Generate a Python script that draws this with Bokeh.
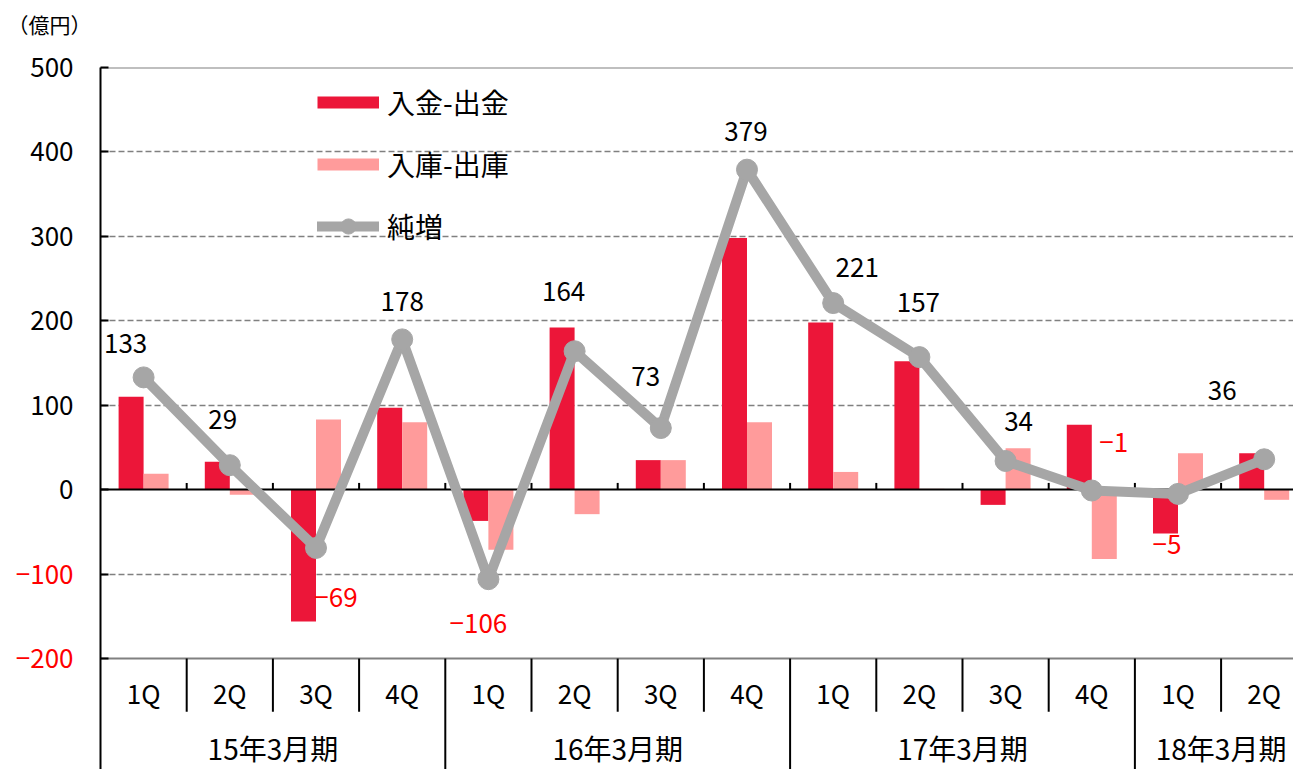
import math
from bokeh.plotting import figure
from bokeh.layouts import row
from bokeh.models import Range1d, FixedTicker, ColumnDataSource
from bokeh.core.properties import value
from bokeh.embed import file_html
from bokeh.resources import INLINE

# ---- data ----
quarters = ["1Q", "2Q", "3Q", "4Q", "1Q", "2Q", "3Q", "4Q", "1Q", "2Q", "3Q", "4Q", "1Q", "2Q"]
periods = ["15年3月期", "16年3月期", "17年3月期", "18年3月期"]
period_sizes = [4, 4, 4, 2]
deposit_net = [110, 33, -156, 97, -37, 192, 35, 298, 198, 152, -18, 77, -52, 43]   # 入金-出金
stock_net = [19, -6, 83, 80, -71, -29, 35, 80, 21, 1, 49, -82, 43, -12]         # 入庫-出庫
total_net = [133, 29, -69, 178, -106, 164, 73, 379, 221, 157, 34, -1, -5, 36]   # 純増
y_ticks = [-200, -100, 0, 100, 200, 300, 400, 500]
grid_ticks = [-100, 100, 200, 300, 400]
unit_label = "（億円）"

# label placement (screen px offsets from each point)
label_dx = [-18, -7, 20, 0, -10, -11, -15, -1, 24, -1, 13, 22, -11, -42]
label_dy = [-34, -46, 50, -38, 44, -60, -52, -38, -36, -55, -39, -48, 51, -69]

RED = "#EC1639"
PINK = "#FF9B9B"
GRAY = "#A6A6A6"
NEG = "#FF0000"
FONT = "Noto Sans CJK JP"
FS = "26px"

W, H = 1293, 769
LEFT, TOP = 100, 67
GAP = 4
Y0, Y1 = -331.4, 500
X1 = 13.84
PXU = (H - TOP) / (Y1 - Y0)  # pixels per y unit

n = len(quarters)
xc = [i + 0.5 for i in range(n)]


def fmt(v):
    return str(v).replace("-", "−")


# ---------- left strip: unit and y tick labels ----------
lp = figure(width=LEFT - GAP, height=H, x_range=Range1d(0, LEFT - GAP),
            y_range=Range1d(Y0, Y1 + TOP / PXU),
            output_backend="svg", toolbar_location=None,
            x_axis_location=None, y_axis_location=None, min_border=0)
lp.outline_line_color = None
lp.grid.visible = False
lp.text(x=[LEFT - 27] * len(y_ticks), y=y_ticks, text=[fmt(t) for t in y_ticks],
        text_color=[NEG if t < 0 else "black" for t in y_ticks],
        text_align="right", text_baseline="middle",
        text_font=value(FONT), text_font_size=value(FS))
lp.text(x=[7], y=[Y1 + (TOP - 23) / PXU], text=[unit_label], text_color="black",
        text_align="left", text_baseline="middle",
        text_font=value(FONT), text_font_size=value("21px"))

# ---------- main chart ----------
p = figure(width=W - LEFT + GAP, height=H, x_range=Range1d(0, X1), y_range=Range1d(Y0, Y1),
           output_backend="svg", toolbar_location=None, x_axis_location=None,
           min_border_left=GAP, min_border_right=0, min_border_top=TOP, min_border_bottom=0)
p.outline_line_color = None

# the two frames have different heights on purpose
for f in (lp, p):
    if "frame_align" in f.properties():
        f.frame_align = False

for g in p.xgrid:
    g.visible = False
p.ygrid.ticker = FixedTicker(ticks=grid_ticks)
p.ygrid.grid_line_color = "#808080"
p.ygrid.grid_line_dash = "6 3"
p.ygrid.grid_line_width = 1.5

ax = p.yaxis[0]
ax.ticker = FixedTicker(ticks=y_ticks)
ax.major_label_overrides = {t: "" for t in y_ticks}
ax.axis_line_color = "black"
ax.axis_line_width = 2
ax.major_tick_in = 8
ax.major_tick_out = 0
ax.major_tick_line_width = 2
ax.major_tick_line_color = "black"
ax.minor_tick_line_color = None
ax.major_label_standoff = 0
ax.major_label_text_font_size = "1px"

# top / bottom solid lines
p.hspan(y=[y_ticks[0], y_ticks[-1]], line_color="#808080", line_width=2)

# bars
p.vbar(x=[x - 0.145 for x in xc], width=0.29, top=deposit_net, bottom=0,
       fill_color=RED, line_color=None)
p.vbar(x=[x + 0.145 for x in xc], width=0.29, top=stock_net, bottom=0,
       fill_color=PINK, line_color=None)

# zero line and category ticks on it
p.hspan(y=[0], line_color="black", line_width=2)
bounds = list(range(1, n + 1))
p.segment(x0=bounds, y0=[0] * len(bounds), x1=bounds, y1=[8] * len(bounds),
          line_color="black", line_width=2)

# net line
p.line(xc, total_net, line_color=GRAY, line_width=10, line_join="round")
p.scatter(xc, total_net, size=21, marker="circle", fill_color=GRAY, line_color=GRAY)

# data labels
lab_src = ColumnDataSource(dict(
    x=xc, y=total_net,
    text=[fmt(v) for v in total_net],
    color=[NEG if v < 0 else "black" for v in total_net],
    dx=label_dx, dy=label_dy))
p.text(x="x", y="y", text="text", source=lab_src, x_offset="dx", y_offset="dy",
       text_color="color", text_align="center", text_baseline="middle",
       text_font=value(FONT), text_font_size=value(FS))

# category table below the chart
qy = -240.5
py = -305.5
p.text(x=xc, y=[qy] * n, text=quarters, text_align="center", text_baseline="middle",
       text_color="black", text_font=value(FONT), text_font_size=value(FS))
starts = []
s = 0
for k in period_sizes:
    starts.append(s)
    s += k
pc = [st + k / 2 for st, k in zip(starts, period_sizes)]
p.text(x=pc, y=[py] * len(periods), text=periods, text_align="center", text_baseline="middle",
       text_color="black", text_font=value(FONT), text_font_size=value("28px"))

major_b = [st for st in starts[1:]]
minor_b = [b for b in range(1, n) if b not in major_b]
p.segment(x0=minor_b, y0=[-200] * len(minor_b), x1=minor_b, y1=[-263] * len(minor_b),
          line_color="black", line_width=2)
p.segment(x0=major_b, y0=[-200] * len(major_b), x1=major_b, y1=[Y0] * len(major_b),
          line_color="black", line_width=2)

# legend proxies (no visible data)
nan = [math.nan]
p.line(nan, nan, line_color=RED, line_width=12, line_cap="butt", legend_label="入金-出金")
p.line(nan, nan, line_color=PINK, line_width=12, line_cap="butt", legend_label="入庫-出庫")
p.line(nan, nan, line_color=GRAY, line_width=10, line_cap="round", legend_label="純増")
p.scatter(nan, nan, size=17, marker="circle", fill_color=GRAY, line_color=GRAY, legend_label="純増")

lg = p.legend[0]
lg.location = (217, 523)
lg.glyph_width = 62
lg.glyph_height = 38
lg.label_height = 38
lg.spacing = 22
lg.padding = 0
lg.margin = 0
lg.label_standoff = 8
lg.border_line_color = None
lg.background_fill_alpha = 0
lg.label_text_font = FONT
lg.label_text_font_size = "28px"
lg.label_text_color = "black"

layout = row(lp, p, spacing=0)
open("out.html", "w").write(file_html(layout, INLINE))
